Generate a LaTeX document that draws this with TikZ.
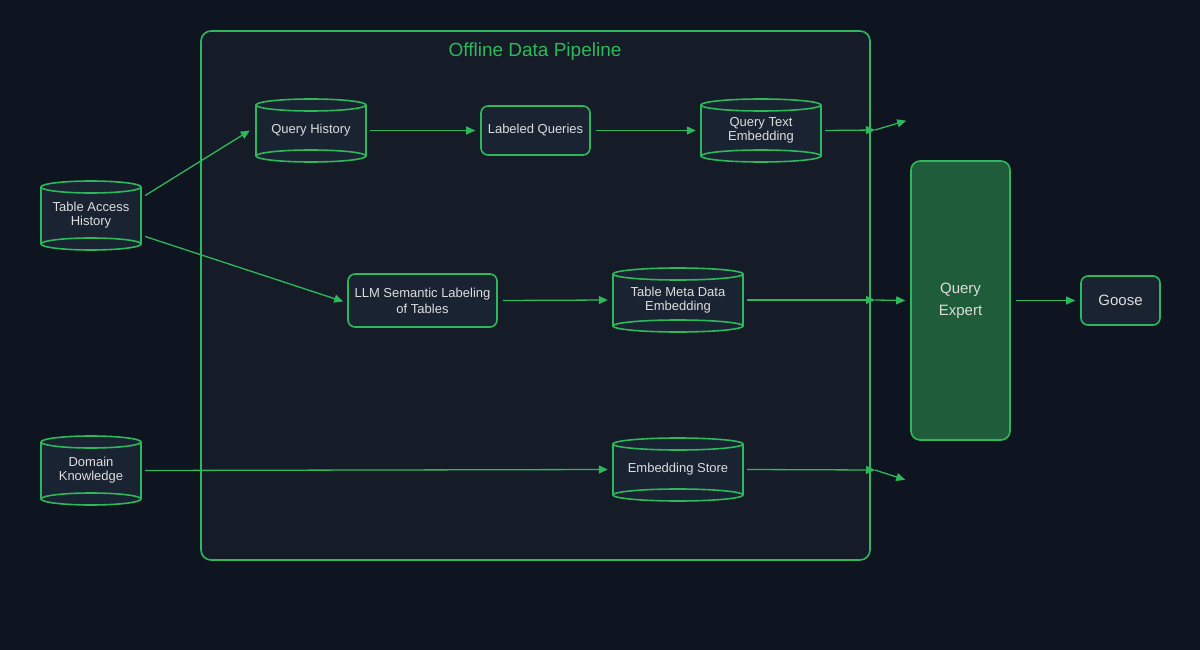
\documentclass[tikz,border=0pt]{standalone}
\usepackage{fontspec}
\setmainfont{Liberation Sans}
\usetikzlibrary{arrows.meta}
\definecolor{bg}{HTML}{0E1420}
\definecolor{pipe}{HTML}{151C28}
\definecolor{nodef}{HTML}{1A2332}
\definecolor{gr}{HTML}{2EB85C}
\definecolor{qe}{HTML}{1F5C3A}
\definecolor{txt}{HTML}{DDDDDD}
\newcommand\mycyl[6]{%
  \pgfmathsetmacro\cx{#2}\pgfmathsetmacro\cy{#3}%
  \pgfmathsetmacro\hw{#4/2}\pgfmathsetmacro\ty{#3-#5/2+6}\pgfmathsetmacro\by{#3+#5/2-6}%
  \fill[nodef] (\cx-\hw,\ty) rectangle (\cx+\hw,\by);
  \draw[gr,line width=1.6pt,fill=nodef] (\cx,\by) ellipse [x radius=\hw, y radius=6];
  \fill[nodef] (\cx-\hw,\ty) rectangle (\cx+\hw,\by);
  \draw[gr,line width=1.6pt] (\cx-\hw,\ty) -- (\cx-\hw,\by) (\cx+\hw,\ty) -- (\cx+\hw,\by);
  \draw[gr,line width=1.6pt] (\cx-\hw,\by) arc[start angle=180,end angle=360,x radius=\hw,y radius=6];
  \draw[gr,line width=1.6pt,fill=nodef] (\cx,\ty) ellipse [x radius=\hw, y radius=6];
  \node[txt,align=center,font=\fontsize{13}{14}\selectfont,minimum width=#4,minimum height=#5,inner sep=0] (#1) at (\cx,\cy) {#6};
}
\begin{document}
\begin{tikzpicture}[x=1pt,y=-1pt,
  box/.style={draw=gr,line width=1.6pt,fill=nodef,rounded corners=7pt,text=txt,align=center,font=\fontsize{13}{16}\selectfont,inner sep=0},
  arr/.style={gr,line width=1.3pt,-{Triangle[length=9pt,width=8pt]}},
  ln/.style={gr,line width=1.3pt}]
\fill[bg] (0,0) rectangle (1200,650);
\useasboundingbox (0,0) rectangle (1200,650);
\node[draw=gr,line width=1.6pt,fill=pipe,rounded corners=10pt,minimum width=669,minimum height=529,inner sep=0] (pipeline) at (535.5,295.5) {};
\node[text=gr,font=\fontsize{19}{20}\selectfont] (title) at (535,52) {Offline Data Pipeline};

\mycyl{tah}{91}{215.5}{100}{69}{Table Access\\History}
\mycyl{qh}{311}{130.5}{110}{63}{Query History}
\mycyl{qte}{761}{130.5}{120}{63}{Query Text\\Embedding}
\mycyl{tmde}{678}{300}{130}{64}{Table Meta Data\\Embedding}
\mycyl{dk}{91}{470.5}{100}{69}{Domain\\Knowledge}
\mycyl{es}{678}{469.5}{130}{63}{Embedding Store}

\node[box,minimum width=109,minimum height=49] (lq) at (535.5,130.5) {Labeled Queries};
\node[box,minimum width=149,minimum height=53] (llm) at (422.5,300.5) {LLM Semantic Labeling\\of Tables};
\node[box,fill=qe,rounded corners=9pt,minimum width=99,minimum height=279,font=\fontsize{15}{22}\selectfont] (qexp) at (960.5,300.5) {Query\\Expert};
\node[box,minimum width=79,minimum height=49,font=\fontsize{15}{18}\selectfont] (goose) at (1120.5,300.5) {Goose};

\coordinate (b1) at (875,130);
\coordinate (b2) at (875,300);
\coordinate (b3) at (875,470);

\draw[arr] (tah.east)++(4,-20) -- ([xshift=-6pt,yshift=0]qh.west);
\draw[arr] (tah.east)++(4,21) -- ([xshift=-4pt,yshift=-1pt]llm.west);
\draw[arr] (qh.east)++(4,0) -- ([xshift=-5pt]lq.west);
\draw[arr] (lq.east)++(5,0) -- ([xshift=-5pt]qte.west);
\draw[arr] (qte.east)++(4,0) -- (b1);
\draw[arr] (b1) -- ([xshift=-4pt,yshift=39.5pt]qexp.north west);
\draw[arr] (llm.east)++(5,0) -- ([xshift=-5pt]tmde.west);
\draw[arr] (tmde.east)++(4,0) -- (b2);
\draw[arr] (b2) -- ([xshift=-5pt]qexp.west);
\draw[arr] (dk.east)++(4,0) -- ([xshift=-5pt]es.west);
\draw[arr] (es.east)++(4,0) -- (b3);
\draw[arr] (b3) -- ([xshift=-5pt,yshift=-39pt]qexp.south west);
\draw[arr] (qexp.east)++(5,0) -- ([xshift=-5pt]goose.west);
\end{tikzpicture}
\end{document}
